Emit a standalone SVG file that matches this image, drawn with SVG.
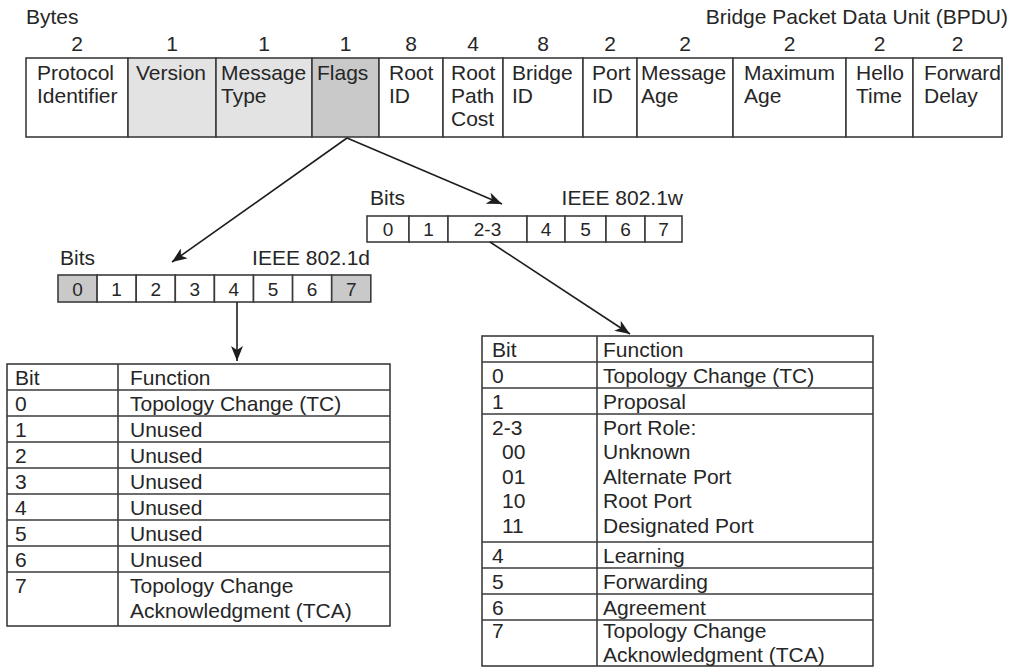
<svg xmlns="http://www.w3.org/2000/svg" width="1011" height="667" viewBox="0 0 1011 667">
<style>
text{font-family:"Liberation Sans",Arial,sans-serif;fill:#262626;font-size:21px}
.cell{stroke:#3c3c3c;stroke-width:1.6}
.w{fill:#ffffff}
.l{fill:#e3e3e3}
.d{fill:#c9c9c9}
.num{text-anchor:middle}
.bit{font-size:19px;text-anchor:middle}
.ln{stroke:#3c3c3c;stroke-width:1.6;fill:none}
.conn{stroke:#1e1e1e;stroke-width:1.6;fill:none;marker-end:url(#ah)}
</style>
<defs>
<marker id="ah" markerWidth="16" markerHeight="12" refX="15" refY="6" orient="auto" markerUnits="userSpaceOnUse">
<path d="M0,0 L15,6 L0,12 L4,6 Z" fill="#1e1e1e"/>
</marker>
</defs>
<rect width="1011" height="667" fill="#ffffff"/>

<g id="bpdu-header">
<text x="26" y="24">Bytes</text>
<text x="1008" y="24" text-anchor="end">Bridge Packet Data Unit (BPDU)</text>
<g class="num">
<text x="77" y="51">2</text>
<text x="172" y="51">1</text>
<text x="264" y="51">1</text>
<text x="345.5" y="51">1</text>
<text x="411" y="51">8</text>
<text x="473" y="51">4</text>
<text x="543" y="51">8</text>
<text x="610" y="51">2</text>
<text x="685" y="51">2</text>
<text x="789.5" y="51">2</text>
<text x="879.5" y="51">2</text>
<text x="957.5" y="51">2</text>
</g>
<rect class="cell w" x="26" y="58" width="102" height="79"/>
<rect class="cell l" x="128" y="58" width="88" height="79"/>
<rect class="cell l" x="216" y="58" width="96" height="79"/>
<rect class="cell d" x="312" y="58" width="67" height="79"/>
<rect class="cell w" x="379" y="58" width="64" height="79"/>
<rect class="cell w" x="443" y="58" width="60" height="79"/>
<rect class="cell w" x="503" y="58" width="80" height="79"/>
<rect class="cell w" x="583" y="58" width="54" height="79"/>
<rect class="cell w" x="637" y="58" width="96" height="79"/>
<rect class="cell w" x="733" y="58" width="113" height="79"/>
<rect class="cell w" x="846" y="58" width="67" height="79"/>
<rect class="cell w" x="913" y="58" width="89" height="79"/>
<text x="37" y="80">Protocol</text><text x="37" y="103">Identifier</text>
<text x="136" y="80">Version</text>
<text x="221" y="80">Message</text><text x="221" y="103">Type</text>
<text x="317" y="80">Flags</text>
<text x="389" y="80">Root</text><text x="389" y="103">ID</text>
<text x="451" y="80">Root</text><text x="451" y="103">Path</text><text x="451" y="126">Cost</text>
<text x="512" y="80">Bridge</text><text x="512" y="103">ID</text>
<text x="592" y="80">Port</text><text x="592" y="103">ID</text>
<text x="641" y="80">Message</text><text x="641" y="103">Age</text>
<text x="744" y="80">Maximum</text><text x="744" y="103">Age</text>
<text x="856" y="80">Hello</text><text x="856" y="103">Time</text>
<text x="924" y="80">Forward</text><text x="924" y="103">Delay</text>
</g>

<g id="bits-8021w">
<text x="370" y="205">Bits</text>
<text x="683" y="205" text-anchor="end">IEEE 802.1w</text>
<rect class="cell w" x="367" y="216" width="42" height="26"/>
<rect class="cell w" x="409" y="216" width="39" height="26"/>
<rect class="cell w" x="448" y="216" width="79" height="26"/>
<rect class="cell w" x="527" y="216" width="38" height="26"/>
<rect class="cell w" x="565" y="216" width="41" height="26"/>
<rect class="cell w" x="606" y="216" width="39" height="26"/>
<rect class="cell w" x="645" y="216" width="37" height="26"/>
<text class="bit" x="388" y="236">0</text>
<text class="bit" x="428.5" y="236">1</text>
<text class="bit" x="487.5" y="236">2-3</text>
<text class="bit" x="546" y="236">4</text>
<text class="bit" x="585.5" y="236">5</text>
<text class="bit" x="625.5" y="236">6</text>
<text class="bit" x="663.5" y="236">7</text>
</g>

<g id="bits-8021d">
<text x="60" y="265">Bits</text>
<text x="370" y="265" text-anchor="end">IEEE 802.1d</text>
<rect class="cell d" x="58" y="275" width="39.1" height="27"/>
<rect class="cell w" x="97.1" y="275" width="39.1" height="27"/>
<rect class="cell w" x="136.2" y="275" width="39.1" height="27"/>
<rect class="cell w" x="175.3" y="275" width="39.1" height="27"/>
<rect class="cell w" x="214.4" y="275" width="39.1" height="27"/>
<rect class="cell w" x="253.5" y="275" width="39.1" height="27"/>
<rect class="cell w" x="292.6" y="275" width="39.1" height="27"/>
<rect class="cell d" x="331.7" y="275" width="39.1" height="27"/>
<text class="bit" x="77.5" y="296">0</text>
<text class="bit" x="116.6" y="296">1</text>
<text class="bit" x="155.7" y="296">2</text>
<text class="bit" x="194.8" y="296">3</text>
<text class="bit" x="233.9" y="296">4</text>
<text class="bit" x="273" y="296">5</text>
<text class="bit" x="312.1" y="296">6</text>
<text class="bit" x="351.2" y="296">7</text>
</g>

<g id="table-8021d">
<rect class="ln" x="7" y="364" width="383" height="262"/>
<line class="ln" x1="118" y1="364" x2="118" y2="626"/>
<path class="ln" d="M7,390H390M7,416H390M7,442H390M7,468H390M7,494H390M7,520H390M7,546H390M7,572H390"/>
<text x="15" y="385">Bit</text><text x="130" y="385">Function</text>
<text x="15" y="411">0</text><text x="130" y="411">Topology Change (TC)</text>
<text x="15" y="437">1</text><text x="130" y="437">Unused</text>
<text x="15" y="463">2</text><text x="130" y="463">Unused</text>
<text x="15" y="489">3</text><text x="130" y="489">Unused</text>
<text x="15" y="515">4</text><text x="130" y="515">Unused</text>
<text x="15" y="541">5</text><text x="130" y="541">Unused</text>
<text x="15" y="567">6</text><text x="130" y="567">Unused</text>
<text x="15" y="593">7</text><text x="130" y="593">Topology Change</text>
<text x="130" y="618">Acknowledgment (TCA)</text>
</g>

<g id="table-8021w">
<rect class="ln" x="482" y="336" width="391" height="330"/>
<line class="ln" x1="597" y1="336" x2="597" y2="666"/>
<path class="ln" d="M482,362H873M482,388H873M482,414H873M482,542H873M482,568H873M482,594H873M482,620H873"/>
<text x="492" y="357">Bit</text><text x="603" y="357">Function</text>
<text x="492" y="383">0</text><text x="603" y="383">Topology Change (TC)</text>
<text x="492" y="409">1</text><text x="603" y="409">Proposal</text>
<text x="492" y="435">2-3</text><text x="603" y="435">Port Role:</text>
<text x="502" y="459">00</text><text x="603" y="459">Unknown</text>
<text x="502" y="484">01</text><text x="603" y="484">Alternate Port</text>
<text x="502" y="508">10</text><text x="603" y="508">Root Port</text>
<text x="502" y="533">11</text><text x="603" y="533">Designated Port</text>
<text x="492" y="563">4</text><text x="603" y="563">Learning</text>
<text x="492" y="589">5</text><text x="603" y="589">Forwarding</text>
<text x="492" y="615">6</text><text x="603" y="615">Agreement</text>
<text x="492" y="638">7</text><text x="603" y="638">Topology Change</text>
<text x="603" y="662">Acknowledgment (TCA)</text>
</g>

<g id="connectors">
<line class="conn" x1="347" y1="138" x2="172" y2="262"/>
<line class="conn" x1="347" y1="138" x2="502" y2="204"/>
<line class="conn" x1="237" y1="302" x2="237" y2="361"/>
<line class="conn" x1="490" y1="242" x2="630" y2="334"/>
</g>
</svg>
